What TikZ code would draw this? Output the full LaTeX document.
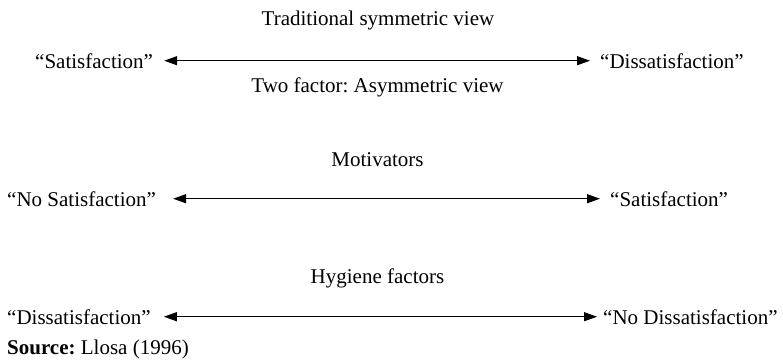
\documentclass[tikz,border=0pt]{standalone}
\usepackage{fontspec}
\setmainfont{Liberation Serif}
\usetikzlibrary{arrows.meta}
\frenchspacing
\begin{document}
\begin{tikzpicture}[x=1pt,y=1pt,
  lbl/.style={inner sep=0pt, anchor=base west, font=\fontsize{21}{25}\selectfont},
  ttl/.style={inner sep=0pt, anchor=base, font=\fontsize{21}{25}\selectfont},
  arr/.style={line width=1.2pt, {Triangle[length=13pt,width=9pt]}-{Triangle[length=13pt,width=9pt]}}]
\useasboundingbox (0,0) rectangle (783,-360);
% row 1
\node[ttl] (t1) at (378,-25) {Traditional symmetric view};
\node[lbl] (l1) at (35,-68) {“Satisfaction”};
\node[lbl] (r1) at (600,-68) {“Dissatisfaction”};
\node[ttl] (t2) at (377.5,-92) {Two factor: Asymmetric view};
\draw[arr, shorten <=11pt, shorten >=10pt] (l1.east) -- (r1.west);
% row 2
\node[ttl] (t3) at (377.5,-166) {Motivators};
\node[lbl] (l2) at (7,-206) {“No Satisfaction”};
\node[lbl] (r2) at (610,-206) {“Satisfaction”};
\draw[arr, shorten <=17pt, shorten >=10pt] (l2.east) -- (r2.west);
% row 3
\node[ttl] (t4) at (377.5,-283) {Hygiene factors};
\node[lbl] (l3) at (7,-324) {“Dissatisfaction”};
\node[lbl] (r3) at (603,-324) {“No Dissatisfaction”};
\draw[arr, shorten <=13pt, shorten >=6pt] (l3.east) -- (r3.west);
% source
\node[lbl] (src) at (7,-354) {\textbf{Source:} Llosa (1996)};
\end{tikzpicture}
\end{document}
